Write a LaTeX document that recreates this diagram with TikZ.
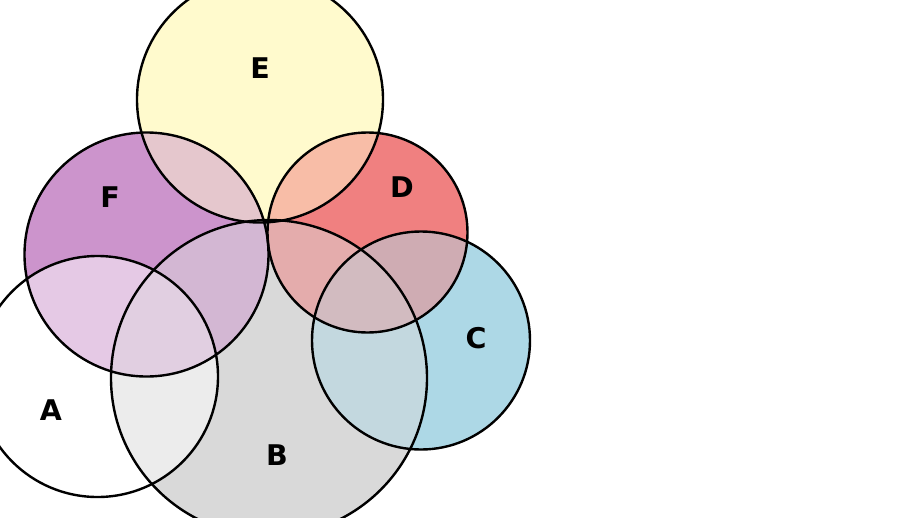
\documentclass[tikz,border=0pt]{standalone}
\usepackage{fontspec}
\setmainfont{DejaVu Sans}
\definecolor{colA}{HTML}{FFFFFF}
\definecolor{colB}{HTML}{D9D9D9}
\definecolor{colC}{HTML}{ADD8E6}
\definecolor{colD}{HTML}{F08080}
\definecolor{colE}{HTML}{FFFACD}
\definecolor{colF}{HTML}{CC94CC}
\colorlet{colAF}{colA!50!colF}
\colorlet{colAB}{colA!50!colB}
\colorlet{colFB}{colF!50!colB}
\colorlet{colFE}{colF!50!colE}
\colorlet{colED}{colE!50!colD}
\colorlet{colDB}{colD!50!colB}
\colorlet{colDC}{colD!50!colC}
\colorlet{colCB}{colC!50!colB}
\colorlet{colEB}{colE!50!colB}
\colorlet{colAFB}{colFB!66.667!colA}
\colorlet{colDCB}{colDC!66.667!colB}
\colorlet{colFEB}{colFE!66.667!colB}
\colorlet{colDEB}{colED!66.667!colB}
\begin{document}
\begin{tikzpicture}[x=1pt,y=-1pt,
  lab/.style={font=\bfseries\fontsize{28.5}{28.5}\selectfont, text=black, inner sep=0pt},
  ring/.style={draw=black, line width=2.4pt}]
\useasboundingbox (0,0) rectangle (918,517);
\def\cirA{(97.5,376.5) circle (120.5)}
\def\cirB{(269,378) circle (158)}
\def\cirC{(421,340.5) circle (109)}
\def\cirD{(367.5,232.5) circle (100)}
\def\cirE{(260,99.5) circle (123)}
\def\cirF{(146.5,254.5) circle (122)}
% single sets
\fill[colA] \cirA;
\fill[colB] \cirB;
\fill[colC] \cirC;
\fill[colD] \cirD;
\fill[colE] \cirE;
\fill[colF] \cirF;
% pairs
\begin{scope}\clip \cirA; \fill[colAF] \cirF; \end{scope}
\begin{scope}\clip \cirA; \fill[colAB] \cirB; \end{scope}
\begin{scope}\clip \cirF; \fill[colFB] \cirB; \end{scope}
\begin{scope}\clip \cirF; \fill[colFE] \cirE; \end{scope}
\begin{scope}\clip \cirE; \fill[colED] \cirD; \end{scope}
\begin{scope}\clip \cirD; \fill[colDB] \cirB; \end{scope}
\begin{scope}\clip \cirD; \fill[colDC] \cirC; \end{scope}
\begin{scope}\clip \cirC; \fill[colCB] \cirB; \end{scope}
\begin{scope}\clip \cirE; \fill[colEB] \cirB; \end{scope}
% triples
\begin{scope}\clip \cirA; \clip \cirF; \fill[colAFB] \cirB; \end{scope}
\begin{scope}\clip \cirD; \clip \cirC; \fill[colDCB] \cirB; \end{scope}
\begin{scope}\clip \cirF; \clip \cirE; \fill[colFEB] \cirB; \end{scope}
\begin{scope}\clip \cirD; \clip \cirE; \fill[colDEB] \cirB; \end{scope}
% outlines
\draw[ring] \cirA;
\draw[ring] \cirB;
\draw[ring] \cirC;
\draw[ring] \cirD;
\draw[ring] \cirE;
\draw[ring] \cirF;
% labels
\node[lab] (labA) at (51,410) {A};
\node[lab] (labB) at (277,455) {B};
\node[lab] (labC) at (476,338) {C};
\node[lab] (labD) at (402,187) {D};
\node[lab] (labE) at (260,68) {E};
\node[lab] (labF) at (110,197) {F};
\end{tikzpicture}
\end{document}
